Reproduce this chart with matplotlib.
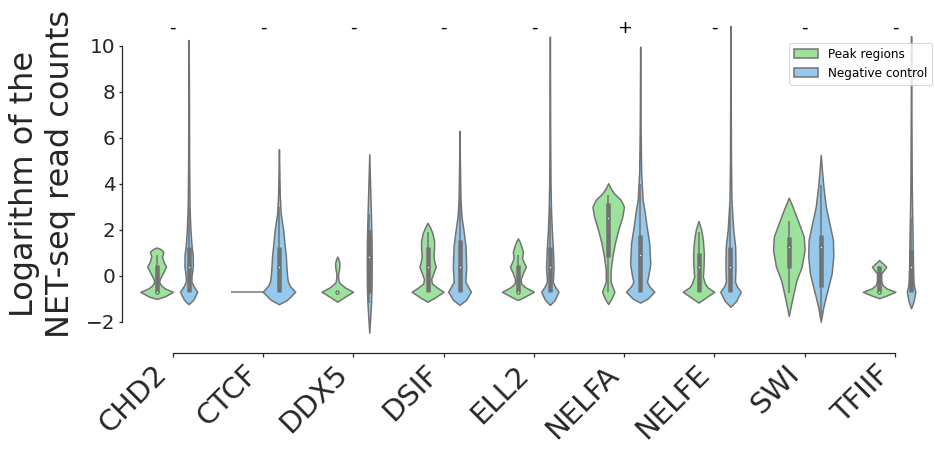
import numpy as np
import matplotlib
matplotlib.use('Agg')
import matplotlib.pyplot as plt
from matplotlib.patches import Patch

# categories and significance marks
factors = ['CHD2', 'CTCF', 'DDX5', 'DSIF', 'ELL2', 'NELFA', 'NELFE', 'SWI', 'TFIIF']
marks = ['-', '-', '-', '-', '-', '+', '-', '-', '-']
hues = ['Peak regions', 'Negative control']

# violin outlines: (log count, relative density)
chd2_peak = [(-1.01, 0), (-0.9, 0.5), (-0.7, 1.0), (-0.55, 0.5), (-0.4, 0.25), (-0.26, 0.15), (-0.1, 0.22),
             (0.1, 0.37), (0.39, 0.58), (0.6, 0.43), (0.83, 0.33), (1.04, 0.41), (1.15, 0.25), (1.23, 0)]
chd2_ctrl = [(-1.24, 0), (-1.05, 0.28), (-0.7, 0.53), (-0.45, 0.3), (-0.26, 0.17), (0.0, 0.18), (0.4, 0.26),
             (0.9, 0.25), (1.3, 0.18), (2.0, 0.11), (3.0, 0.055), (5.0, 0.03), (8.0, 0.02), (10.25, 0)]
ctcf_peak = []  # every value equal -> drawn as a flat line
ctcf_ctrl = [(-1.24, 0), (-1.05, 0.5), (-0.7, 1.0), (-0.45, 0.68), (-0.26, 0.55), (0.0, 0.5), (0.39, 0.46),
             (0.9, 0.42), (1.26, 0.36), (2.0, 0.26), (2.7, 0.11), (3.5, 0.05), (4.5, 0.025), (5.5, 0)]
ddx5_peak = [(-1.13, 0), (-0.9, 0.5), (-0.7, 0.97), (-0.5, 0.45), (-0.3, 0.12), (-0.1, 0.05), (0.1, 0.06),
             (0.35, 0.12), (0.55, 0.13), (0.7, 0.08), (0.83, 0)]
ddx5_ctrl = [(-2.48, 0), (-1.8, 0.06), (-1.2, 0.11), (-0.5, 0.14), (0.2, 0.15), (0.83, 0.15), (1.5, 0.14),
             (2.2, 0.12), (3.0, 0.09), (4.0, 0.05), (5.28, 0)]
dsif_peak = [(-1.13, 0), (-0.95, 0.45), (-0.7, 0.98), (-0.5, 0.55), (-0.34, 0.27), (-0.15, 0.22), (0.1, 0.35),
             (0.39, 0.5), (0.6, 0.42), (0.85, 0.36), (1.2, 0.4), (1.5, 0.4), (1.85, 0.3), (2.1, 0.15), (2.3, 0)]
dsif_ctrl = [(-1.27, 0), (-1.05, 0.4), (-0.7, 0.7), (-0.45, 0.5), (-0.26, 0.36), (0.39, 0.41), (1.26, 0.37),
             (1.99, 0.24), (2.57, 0.12), (3.3, 0.06), (4.5, 0.03), (6.3, 0)]
ell2_peak = [(-1.06, 0), (-0.9, 0.45), (-0.7, 0.98), (-0.5, 0.45), (-0.34, 0.2), (-0.15, 0.18), (0.1, 0.3),
             (0.39, 0.49), (0.6, 0.35), (0.75, 0.26), (1.04, 0.31), (1.3, 0.2), (1.5, 0.1), (1.62, 0)]
ell2_ctrl = [(-1.27, 0), (-1.05, 0.3), (-0.7, 0.53), (-0.45, 0.3), (-0.26, 0.18), (0.39, 0.23), (1.26, 0.18),
             (1.99, 0.12), (2.86, 0.07), (4.0, 0.04), (6.0, 0.02), (10.4, 0)]
nelfa_peak = [(-1.23, 0), (-1.0, 0.2), (-0.7, 0.38), (-0.45, 0.25), (-0.26, 0.15), (0.25, 0.15), (0.83, 0.26),
              (1.41, 0.41), (1.99, 0.62), (2.57, 0.87), (3.0, 0.97), (3.3, 0.77), (3.58, 0.36), (3.8, 0.15), (4.02, 0)]
nelfa_ctrl = [(-1.17, 0), (-1.0, 0.45), (-0.7, 0.87), (-0.45, 0.55), (-0.26, 0.42), (0.0, 0.5), (0.5, 0.62),
              (1.41, 0.56), (2.13, 0.4), (2.86, 0.26), (3.3, 0.15), (4.5, 0.06), (6.5, 0.025), (9.96, 0)]
nelfe_peak = [(-1.17, 0), (-0.95, 0.45), (-0.7, 0.97), (-0.5, 0.55), (-0.34, 0.4), (-0.05, 0.27), (0.39, 0.31),
              (0.97, 0.33), (1.55, 0.27), (1.99, 0.17), (2.2, 0.08), (2.38, 0)]
nelfe_ctrl = [(-1.35, 0), (-1.1, 0.35), (-0.7, 0.63), (-0.45, 0.38), (-0.26, 0.28), (0.39, 0.31), (1.26, 0.29),
              (1.99, 0.17), (3.3, 0.06), (5.0, 0.03), (8.0, 0.015), (10.86, 0)]
swi_peak = [(-1.75, 0), (-1.22, 0.15), (-0.64, 0.33), (-0.2, 0.47), (0.39, 0.79), (1.12, 0.97), (1.7, 0.92),
            (2.28, 0.62), (2.86, 0.31), (3.15, 0.14), (3.39, 0)]
swi_ctrl = [(-2.0, 0), (-1.35, 0.16), (-0.64, 0.41), (0.1, 0.67), (0.83, 0.77), (1.55, 0.75), (2.28, 0.53),
            (3.0, 0.31), (3.88, 0.16), (4.6, 0.07), (5.25, 0)]
tfiif_peak = [(-0.98, 0), (-0.85, 0.5), (-0.7, 1.0), (-0.55, 0.45), (-0.4, 0.2), (-0.2, 0.13), (0.1, 0.13),
              (0.25, 0.3), (0.39, 0.44), (0.55, 0.2), (0.68, 0)]
tfiif_ctrl = [(-1.42, 0), (-1.1, 0.16), (-0.7, 0.26), (-0.45, 0.18), (-0.26, 0.15), (0.39, 0.12), (1.84, 0.09),
              (2.57, 0.07), (4.0, 0.04), (7.0, 0.02), (10.42, 0)]

peak_profiles = [chd2_peak, ctcf_peak, ddx5_peak, dsif_peak, ell2_peak, nelfa_peak, nelfe_peak, swi_peak, tfiif_peak]
ctrl_profiles = [chd2_ctrl, ctcf_ctrl, ddx5_ctrl, dsif_ctrl, ell2_ctrl, nelfa_ctrl, nelfe_ctrl, swi_ctrl, tfiif_ctrl]

# inner box: whisker low, q1, median, q3, whisker high
peak_wlo = [-0.70, -0.70, -0.70, -0.70, -0.70, -0.70, -0.70, -0.75, -0.70]
peak_q1 = [-0.70, -0.70, -0.70, -0.70, -0.70, 0.83, -0.70, 0.32, -0.70]
peak_med = [-0.70, -0.70, -0.70, 0.39, -0.70, 2.49, 0.39, 1.26, -0.70]
peak_q3 = [0.47, -0.70, -0.70, 1.26, 0.47, 3.15, 0.97, 1.70, 0.41]
peak_whi = [0.90, -0.70, -0.70, 1.91, 0.90, 3.51, 1.91, 2.38, 0.41]

ctrl_wlo = [-0.70, -0.70, -1.20, -0.70, -0.70, -0.70, -0.70, -1.78, -0.70]
ctrl_q1 = [-0.70, -0.70, -0.77, -0.70, -0.70, -0.70, -0.70, -0.49, -0.70]
ctrl_med = [0.39, 0.39, 0.83, 0.39, 0.39, 0.90, 0.39, 1.26, 0.39]
ctrl_q3 = [1.26, 1.26, 1.99, 1.55, 1.26, 1.77, 1.26, 1.77, 1.12]
ctrl_whi = [3.0, 3.0, 2.7, 3.5, 3.0, 4.0, 3.0, 3.94, 2.5]

green = '#9ce29c'
blue = '#95caec'
gray = '#727272'
text_col = '#262626'

half_w = 0.18   # half width of a violin at its widest
dodge = 0.177

plt.rcParams['font.family'] = 'DejaVu Sans'
fig = plt.figure(figsize=(935 / 72, 449 / 72), dpi=72)
ax = fig.add_axes([127.5 / 935, 100.85 / 449, 812.75 / 935, 337.65 / 449])

# spines first: moving a spine resets the tick labels
for s in ['top', 'right']:
    ax.spines[s].set_visible(False)
ax.spines['left'].set_position(('outward', 5))
ax.spines['bottom'].set_position(('outward', 5))
for s in ['left', 'bottom']:
    ax.spines[s].set_color(text_col)
    ax.spines[s].set_linewidth(1.25)

groups = [(peak_profiles, -dodge, green, peak_wlo, peak_q1, peak_med, peak_q3, peak_whi),
          (ctrl_profiles, dodge, blue, ctrl_wlo, ctrl_q1, ctrl_med, ctrl_q3, ctrl_whi)]

for profiles, off, col, wlo, q1, med, q3, whi in groups:
    for i, prof in enumerate(profiles):
        pos = i + off
        if len(prof) == 0:
            ax.hlines(med[i], pos - half_w, pos + half_w, color=gray, lw=1.5)
            continue
        y = np.array([p[0] for p in prof])
        d = np.array([p[1] for p in prof])
        stats = [{'coords': y, 'vals': d, 'mean': med[i], 'median': med[i],
                  'min': y.min(), 'max': y.max()}]
        parts = ax.violin(stats, positions=[pos], widths=[2 * half_w * d.max()],
                          showextrema=False)
        for body in parts['bodies']:
            body.set_facecolor(col)
            body.set_edgecolor(gray)
            body.set_linewidth(1.5)
            body.set_alpha(1)
        ax.vlines(pos, wlo[i], whi[i], color=gray, lw=1.5)
        ax.vlines(pos, q1[i], q3[i], color=gray, lw=4.5)
        ax.scatter([pos], [med[i]], s=9, color='white', edgecolor=gray, linewidths=1.5, zorder=3)

for i, m in enumerate(marks):
    ax.text(i, 10.55, m, ha='center', va='baseline', fontsize=18, color='black')

ax.set_xlim(-0.5, 8.5)
ax.set_ylim(-3.15, 11.53)
ax.spines['left'].set_bounds(-2, 10)
ax.spines['bottom'].set_bounds(0, 8)
ax.tick_params(colors=text_col, width=1.25, length=3.5)
ax.set_xticks(range(len(factors)))
ax.set_xticklabels(factors, rotation=45, ha='right', fontsize=29, color=text_col)
ax.set_yticks([-2, 0, 2, 4, 6, 8, 10])
ax.set_yticklabels(['\u22122', '0', '2', '4', '6', '8', '10'], fontsize=20, color=text_col)
ax.set_ylabel('Logarithm of the  \nNET-seq read counts', fontsize=32, color=text_col)
ax.yaxis.set_label_coords(-0.0634, 0.517)

handles = [Patch(facecolor=green, edgecolor=gray, lw=1.5, label=hues[0]),
           Patch(facecolor=blue, edgecolor=gray, lw=1.5, label=hues[1])]
fig.legend(handles=handles, loc='upper right', bbox_to_anchor=(932 / 935, 1 - 43 / 449),
           borderaxespad=0, fontsize=12, framealpha=0.8, edgecolor='0.8')

fig.savefig('out.png', dpi=72)
